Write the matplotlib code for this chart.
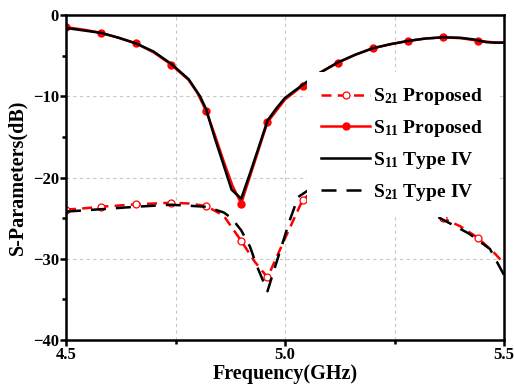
import numpy as np
import matplotlib.pyplot as plt

plt.rcParams['font.family'] = 'Liberation Serif'
plt.rcParams['font.weight'] = 'bold'
plt.rcParams['mathtext.fontset'] = 'custom'
plt.rcParams['mathtext.rm'] = 'Liberation Serif:bold'
plt.rcParams['mathtext.default'] = 'rm'

# S11 proposed (red solid, filled dots)
f_s11_p = [4.50, 4.54, 4.58, 4.62, 4.66, 4.70, 4.74, 4.78, 4.80, 4.82, 4.84, 4.86, 4.88, 4.90, 4.93, 4.96,
           5.00, 5.04, 5.08, 5.12, 5.16, 5.20, 5.24, 5.28, 5.32, 5.36, 5.40, 5.44, 5.48, 5.50]
s11_p = [-1.5, -1.8, -2.2, -2.8, -3.5, -4.6, -6.1, -8.0, -9.6, -11.8, -14.8, -18.0, -21.0, -23.2, -18.2, -13.2,
         -10.4, -8.7, -7.1, -5.9, -4.9, -4.1, -3.6, -3.2, -2.9, -2.75, -2.85, -3.15, -3.4, -3.4]

# S21 proposed (red dashed, open circles)
f_s21_p = [4.50, 4.54, 4.58, 4.62, 4.66, 4.70, 4.74, 4.78, 4.82, 4.86, 4.90, 4.93, 4.96, 5.00,
           5.04, 5.08, 5.12, 5.16, 5.20, 5.24, 5.28, 5.32, 5.36, 5.40, 5.44, 5.48, 5.50]
s21_p = [-23.95, -23.8, -23.6, -23.45, -23.3, -23.2, -23.1, -23.2, -23.5, -24.7, -27.8, -30.3, -32.3, -27.5,
         -22.8, -20.8, -20.5, -21.0, -21.8, -22.9, -23.9, -24.5, -25.0, -26.0, -27.4, -29.4, -30.6]

# S11 type IV (black solid)
f_s11_t = [4.50, 4.54, 4.58, 4.62, 4.66, 4.70, 4.74, 4.78, 4.806, 4.82, 4.84, 4.86, 4.878, 4.90,
           4.92, 4.938, 4.96, 4.98, 5.00, 5.04, 5.08, 5.12, 5.16, 5.20, 5.24, 5.28, 5.32, 5.36,
           5.40, 5.43, 5.46, 5.48, 5.50]
s11_t = [-1.6, -1.9, -2.2, -2.8, -3.5, -4.5, -6.0, -7.9, -10.0, -11.6, -15.2, -18.5, -21.5, -22.6,
         -19.5, -16.6, -13.0, -11.5, -10.2, -8.6, -7.1, -5.85, -4.9, -4.1, -3.6, -3.2, -2.9, -2.75,
         -2.8, -3.0, -3.35, -3.4, -3.4]

# S21 type IV (black dashed)
f_s21_t = [4.50, 4.58, 4.66, 4.74, 4.82, 4.86, 4.878, 4.90, 4.92, 4.935, 4.96, 4.975, 4.992, 5.01,
           5.03, 5.08, 5.16, 5.24, 5.30, 5.34, 5.42, 5.468, 5.50]
s21_t = [-24.2, -23.9, -23.6, -23.35, -23.6, -24.3, -25.0, -26.5, -28.5, -30.8, -34.0, -31.4, -28.5, -25.4,
         -22.4, -20.6, -21.2, -22.8, -24.0, -24.6, -26.9, -28.8, -32.0]

marker_f = [4.50, 4.58, 4.66, 4.74, 4.82, 4.90, 4.96, 5.04, 5.12, 5.20, 5.28, 5.36, 5.44]


def marks(f):
    return [i for i, v in enumerate(f) if round(v, 3) in marker_f]


fig = plt.figure(figsize=(5.14, 3.87), dpi=100)
ax = fig.add_axes([66/514, 47/387, 438/514, 325/387])

l1, = ax.plot(f_s21_p, s21_p, color='red', lw=1.8, dashes=(4, 2.5), marker='o', ms=5,
              mfc='white', mec='red', mew=0.9, markevery=marks(f_s21_p), label=r'S$_{21}$ Proposed')
l2, = ax.plot(f_s11_p, s11_p, color='red', lw=1.8, marker='o', ms=5, mfc='red', mec='red',
              markevery=marks(f_s11_p), label=r'S$_{11}$ Proposed')
l3, = ax.plot(f_s11_t, s11_t, color='black', lw=1.8, label=r'S$_{11}$ Type IV')
l4, = ax.plot(f_s21_t, s21_t, color='black', lw=1.8, dashes=(6, 4), label=r'S$_{21}$ Type IV')

ax.set_xlim(4.5, 5.5)
ax.set_ylim(-40, 0)
ax.set_xticks([4.5, 5.0, 5.5])
ax.set_xticks([4.75, 5.25], minor=True)
ax.set_yticks([0, -10, -20, -30, -40])
ax.set_yticks([-5, -15, -25, -35], minor=True)
ax.set_xticklabels(['4.5', '5.0', '5.5'])
ax.grid(True, which='major', color='#c8c8c8', ls=(0, (3, 3)), lw=0.8)
ax.grid(True, which='minor', axis='x', color='#c8c8c8', ls=(0, (3, 3)), lw=0.8)
ax.set_axisbelow(True)

for s in ax.spines.values():
    s.set_linewidth(1.8)
ax.tick_params(which='major', direction='out', length=4, width=1.8, labelsize=12, pad=1)
ax.tick_params(which='minor', direction='out', length=3, width=1.8)

ax.set_xlabel('Frequency(GHz)', fontsize=14.5, fontweight='bold', labelpad=1)
ax.set_ylabel('S-Parameters(dB)', fontsize=14.5, fontweight='bold', labelpad=4)

leg = ax.legend(handles=[l1, l2, l3, l4], loc='upper left', bbox_to_anchor=(0.55, 0.825),
                fontsize=14, frameon=True, fancybox=False, framealpha=1, edgecolor='none',
                facecolor='white', handlelength=2.5, handletextpad=0.15, labelspacing=0.55,
                borderpad=0.75, borderaxespad=0)
leg.set_zorder(5)

fig.savefig('out.png', dpi=100)
